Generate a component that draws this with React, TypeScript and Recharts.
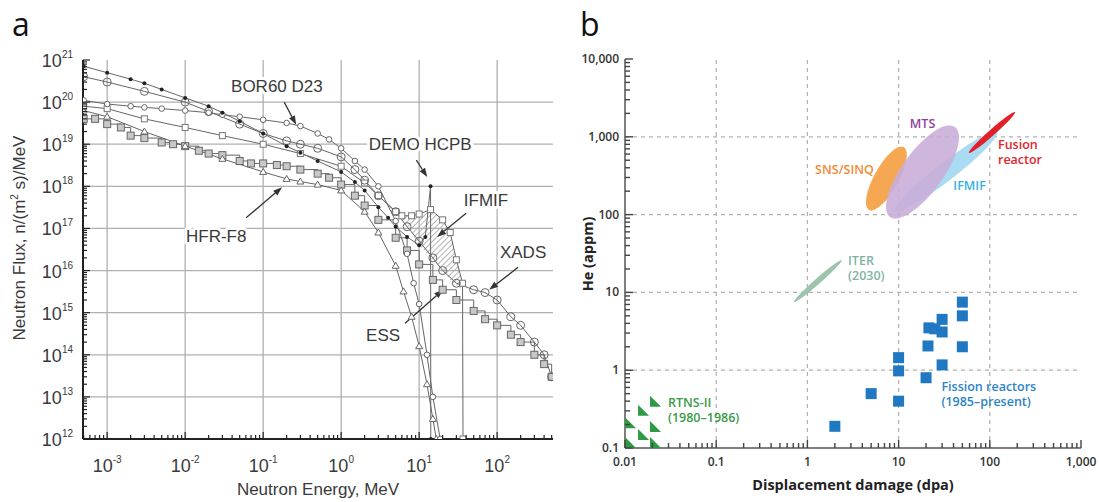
import React from 'react';
import {
  ComposedChart, Line, Area, Scatter, XAxis, YAxis, ReferenceLine, ReferenceDot,
} from 'recharts';

// ──────────────────────────────────────────────
// Panel a — neutron spectra (log–log)
// ──────────────────────────────────────────────

const E_DOMAIN: [number, number] = [4.9e-4, 520];
const FLUX_DOMAIN: [number, number] = [1e12, 1e21];
const E_DECADES = [1e-3, 1e-2, 1e-1, 1, 10, 100];
const FLUX_DECADES = [1e12, 1e13, 1e14, 1e15, 1e16, 1e17, 1e18, 1e19, 1e20, 1e21];

// energies in MeV, flux in n/(m² s)/MeV
const BOR60_E = [5e-4, 1e-3, 2e-3, 3e-3, 5e-3, 1e-2, 2e-2, 3e-2, 5e-2, 0.1, 0.2, 0.3, 0.5, 0.7, 1, 1.5, 2, 3, 5, 7, 8.5, 10, 12.6, 15, 18.6];
const BOR60_F = [1.1e20, 9e19, 8e19, 7.5e19, 7e19, 6.3e19, 5.6e19, 5e19, 4.5e19, 3.8e19, 3.2e19, 2.7e19, 1.8e19, 1.3e19, 8e18, 4e18, 2.5e18, 1e18, 1.5e17, 2.5e16, 5e15, 1.6e15, 1e14, 1e13, 1e12];

const DEMO_E = [5e-4, 1e-3, 2e-3, 3e-3, 5e-3, 1e-2, 2e-2, 3e-2, 5e-2, 0.1, 0.2, 0.3, 0.5, 1, 1.5, 2, 3, 4, 5, 7, 10, 12, 14, 14.1];
const DEMO_F = [7.1e20, 5e20, 3.5e20, 2.8e20, 2e20, 1.26e20, 8e19, 5.6e19, 3.5e19, 1.8e19, 9e18, 6.3e18, 4e18, 2.2e18, 1.26e18, 8e17, 3.2e17, 1.8e17, 1.1e17, 6.3e16, 4e16, 6.3e16, 1e18, 1e12];

const HFR_E = [5e-4, 1e-3, 3e-3, 1e-2, 3e-2, 0.1, 0.2, 0.3, 0.5, 1, 2, 3, 5, 6.3, 8, 10, 12.6, 15, 16.6];
const HFR_F = [6.3e19, 4.5e19, 2e19, 9e18, 4.5e18, 2.2e18, 1.5e18, 1.3e18, 1.1e18, 8e17, 2.5e17, 8e16, 1.3e16, 3.2e15, 8e14, 1.6e14, 2e13, 3e12, 1e12];

const ESS_E = [5e-4, 7e-4, 1e-3, 1.5e-3, 2e-3, 3e-3, 5e-3, 7e-3, 1e-2, 1.5e-2, 2e-2, 3e-2, 5e-2, 7e-2, 0.1, 0.15, 0.2, 0.3, 0.5, 0.7, 1, 1.5, 2, 3, 5, 7, 10, 15, 20, 30, 50, 70, 100, 150, 200, 300, 400, 500];
const ESS_F = [4e19, 4e19, 3e19, 2.5e19, 1.6e19, 1.4e19, 1.1e19, 1e19, 9e18, 7e18, 6e18, 5.5e18, 4e18, 3.5e18, 3.5e18, 3.2e18, 3e18, 2.5e18, 2e18, 1.6e18, 1.1e18, 6e17, 3.5e17, 1.6e17, 6e16, 3e16, 1.4e16, 6e15, 3.5e15, 2e15, 1.1e15, 7e14, 5e14, 3e14, 2e14, 1e14, 6e13, 3e13];

const XADS_E = [5e-4, 1e-3, 3e-3, 1e-2, 2e-2, 5e-2, 0.1, 0.2, 0.3, 0.5, 1, 1.5, 2, 3, 5, 7, 10, 15, 20, 30, 50, 70, 100, 150, 200, 300, 400, 500];
const XADS_F = [4e20, 3e20, 1.8e20, 1e20, 6e19, 3e19, 1.8e19, 1.2e19, 1e19, 8e18, 5e18, 2.5e18, 1.4e18, 6e17, 2.5e17, 1.1e17, 5e16, 2e16, 1e16, 5e15, 3.5e15, 3e15, 2e15, 8e14, 5e14, 2e14, 1e14, 3e13];

const IFMIF_E = [5e-4, 1e-3, 3e-3, 1e-2, 3e-2, 0.1, 0.3, 1, 2, 3, 5, 6, 8, 10, 14, 20, 25, 30, 36, 36.5];
const IFMIF_F = [8e19, 7e19, 4e19, 2.5e19, 1.6e19, 1e19, 6e18, 3e18, 1.2e18, 6e17, 2.5e17, 2e17, 2e17, 2.2e17, 2.8e17, 1.6e17, 8e16, 1.8e16, 5e15, 1e12];

// hatched IFMIF band: lower edge sits on the other spectra
const IFMIF_BAND_E = [6, 8, 10, 14, 20, 25, 30, 36];
const IFMIF_BAND_LO = [1.6e17, 8e16, 4e16, 2e16, 1e16, 6e15, 4.5e15, 3.5e15];
const IFMIF_BAND_HI = [2e17, 2e17, 2.2e17, 2.8e17, 1.6e17, 8e16, 1.8e16, 5e15];

const pts = (xs: number[], ys: number[]) => xs.map((x, i) => ({ x, y: ys[i] }));
const bandPts = IFMIF_BAND_E.map((x, i) => ({ x, band: [IFMIF_BAND_LO[i], IFMIF_BAND_HI[i]] }));

// annotation anchors, in data coordinates
const A_NOTES = [
  { text: 'BOR60 D23', x: 0.15, y: 2.3e20, from: [0.186, 1e20], to: [0.265, 2.9e19] },
  { text: 'DEMO HCPB', x: 10.3, y: 1e19, from: [9.2, 4.2e18], to: [12.7, 1.66e18] },
  { text: 'IFMIF', x: 72, y: 4.7e17, from: [40, 2.3e17], to: [17, 6.3e16] },
  { text: 'HFR-F8', x: 0.025, y: 6.3e16, from: [0.0605, 1.8e17], to: [0.175, 9.5e17] },
  { text: 'ESS', x: 3.45, y: 2.9e14, from: [6.6, 5.6e14], to: [20.3, 3.5e15] },
  { text: 'XADS', x: 215, y: 2.75e16, from: [186, 1.2e16], to: [79, 3.5e15] },
];

// ──────────────────────────────────────────────
// Panel b — helium vs displacement damage
// ──────────────────────────────────────────────

const DPA_DECADES = [0.01, 0.1, 1, 10, 100, 1000];
const HE_DECADES = [0.1, 1, 10, 100, 1000, 10000];

const FISSION_DPA = [2, 5, 10, 10, 10, 20, 21, 21.5, 25, 30, 30, 30, 50, 50, 50];
const FISSION_HE = [0.19, 0.5, 0.4, 0.98, 1.45, 0.8, 2.05, 3.5, 3.4, 4.5, 3.1, 1.17, 7.5, 5.0, 2.0];

const RTNS_DPA = [0.01, 0.01, 0.0139, 0.0139, 0.0188, 0.0188, 0.0188];
const RTNS_HE = [0.1, 0.18, 0.127, 0.26, 0.1, 0.16, 0.34];

// facilities drawn as ellipses: ends of the long axis (dpa, appm)
const REGIONS = [
  { name: 'IFMIF', from: [9, 110], to: [120, 1150], fill: '#a9dcf2', ratio: 0.14, opacity: 1 },
  { name: 'SNS/SINQ', from: [4.73, 115], to: [11.4, 740], fill: '#f6a752', ratio: 0.34, opacity: 1 },
  { name: 'MTS', from: [8.05, 93], to: [41.5, 1337], fill: '#c9aed9', ratio: 0.37, opacity: 0.9 },
  { name: 'Fusion', from: [59, 620], to: [189, 2080], fill: '#e3202a', ratio: 0.1, opacity: 1 },
  { name: 'ITER', from: [0.71, 7.5], to: [2.38, 26], fill: '#9dc3ae', ratio: 0.09, opacity: 1 },
];

const B_NOTES = [
  { lines: ['MTS'], x: 18.3, y: 1500, color: '#8e3f9e', anchor: 'middle' },
  { lines: ['SNS/SINQ'], x: 2.55, y: 385, color: '#f28a36', anchor: 'middle' },
  { lines: ['Fusion', 'reactor'], x: 123, y: 807, color: '#e3262e', anchor: 'start' },
  { lines: ['IFMIF'], x: 60, y: 240, color: '#35b2e4', anchor: 'middle' },
  { lines: ['ITER', '(2030)'], x: 2.79, y: 26, color: '#7fb3a5', anchor: 'start' },
  { lines: ['Fission reactors', '(1985–present)'], x: 29.5, y: 0.61, color: '#2a84c6', anchor: 'start' },
  { lines: ['RTNS-II', '(1980–1986)'], x: 0.0296, y: 0.39, color: '#3a9a48', anchor: 'start' },
];

// ──────────────────────────────────────────────
// helpers
// ──────────────────────────────────────────────

const SANS_A = '"Liberation Sans", Arial, sans-serif';
const SANS_B = '"Open Sans", "Noto Sans", sans-serif';

const isDecade = (v: number) => Math.abs(Math.log10(v) - Math.round(Math.log10(v))) < 1e-6;
const withMinors = (decades: number[]) =>
  decades.flatMap((d, i) => (i === decades.length - 1 ? [d] : [1, 2, 3, 4, 5, 6, 7, 8, 9].map(k => k * d)));

const E_TICKS = [5e-4, 6e-4, 7e-4, 8e-4, 9e-4, ...withMinors(E_DECADES), 200, 300, 400, 500];
const FLUX_TICKS = withMinors(FLUX_DECADES);
const DPA_TICKS = withMinors(DPA_DECADES);
const HE_TICKS = withMinors(HE_DECADES);

const exp10 = (v: number) => String(Math.round(Math.log10(v)));
const fmtB = (v: number) => v.toLocaleString('en-US', { maximumFractionDigits: 2 });

function EnergyTick({ x, y, payload }: any) {
  const major = isDecade(payload.value);
  return (
    <g>
      <line x1={x} y1={y} x2={x} y2={y - (major ? 7 : 4)} stroke="#222" strokeWidth={1.2} />
      {major && (
        <text x={x} y={y + 33} textAnchor="middle" fontFamily={SANS_A} fontSize={18} fill="#3a3a3a">
          10<tspan dy={-9} fontSize={10}>{exp10(payload.value)}</tspan>
        </text>
      )}
    </g>
  );
}

function FluxTick({ x, y, payload }: any) {
  const major = isDecade(payload.value);
  return (
    <g>
      <line x1={x} y1={y} x2={x + (major ? 7 : 4)} y2={y} stroke="#222" strokeWidth={1.2} />
      {major && (
        <text x={x - 10} y={y + 7} textAnchor="end" fontFamily={SANS_A} fontSize={18} fill="#3a3a3a">
          10<tspan dy={-9} fontSize={10}>{exp10(payload.value)}</tspan>
        </text>
      )}
    </g>
  );
}

const B_TICK = { stroke: '#444', strokeWidth: 1.4 };

function DpaTick({ x, y, payload }: any) {
  const major = isDecade(payload.value);
  return (
    <g>
      <line x1={x} y1={y} x2={x} y2={y - (major ? 8 : 5)} {...B_TICK} />
      {major && (
        <text x={x} y={y + 18} textAnchor="middle" fontFamily={SANS_B} fontWeight={600} fontSize={12} fill="#333">
          {fmtB(payload.value)}
        </text>
      )}
    </g>
  );
}
function DpaTopTick({ x, y, payload }: any) {
  const major = isDecade(payload.value);
  return <line x1={x} y1={y} x2={x} y2={y + (major ? 8 : 5)} {...B_TICK} />;
}
function HeTick({ x, y, payload }: any) {
  const major = isDecade(payload.value);
  return (
    <g>
      <line x1={x} y1={y} x2={x + (major ? 8 : 5)} y2={y} {...B_TICK} />
      {major && (
        <text x={x - 6} y={y + 4} textAnchor="end" fontFamily={SANS_B} fontWeight={600} fontSize={12} fill="#333">
          {fmtB(payload.value)}
        </text>
      )}
    </g>
  );
}
function HeRightTick({ x, y, payload }: any) {
  const major = isDecade(payload.value);
  return <line x1={x} y1={y} x2={x - (major ? 8 : 5)} y2={y} {...B_TICK} />;
}

function Arrow(p: any) {
  const { x1, y1, x2, y2 } = p;
  const a = Math.atan2(y2 - y1, x2 - x1);
  const bx = x2 - 9 * Math.cos(a);
  const by = y2 - 9 * Math.sin(a);
  const nx = -Math.sin(a) * 3.2;
  const ny = Math.cos(a) * 3.2;
  return (
    <g>
      <line x1={x1} y1={y1} x2={bx} y2={by} stroke="#333" strokeWidth={1.3} />
      <polygon points={`${x2},${y2} ${bx + nx},${by + ny} ${bx - nx},${by - ny}`} fill="#333" />
    </g>
  );
}

const ellipseShape = (fill: string, ratio: number, opacity: number) => (p: any) => {
  const { x1, y1, x2, y2 } = p;
  const cx = (x1 + x2) / 2;
  const cy = (y1 + y2) / 2;
  const rx = Math.hypot(x2 - x1, y2 - y1) / 2;
  const ang = (Math.atan2(y2 - y1, x2 - x1) * 180) / Math.PI;
  return (
    <ellipse cx={cx} cy={cy} rx={rx} ry={rx * ratio} transform={`rotate(${ang} ${cx} ${cy})`}
      fill={fill} fillOpacity={opacity} />
  );
};

// marker renderers for the grey spectra
const mk = (kind: string) => (p: any) => {
  const { cx, cy, index } = p;
  if (cx == null || cy == null) return <g key={index} />;
  switch (kind) {
    case 'dot':
      return <circle key={index} cx={cx} cy={cy} r={2} fill="#222" />;
    case 'ring':
      return <circle key={index} cx={cx} cy={cy} r={2.8} fill="#fff" stroke="#666" strokeWidth={1} />;
    case 'bigring':
      return <circle key={index} cx={cx} cy={cy} r={4} fill="none" stroke="#666" strokeWidth={1} />;
    case 'tri':
      return <polygon key={index} points={`${cx},${cy - 3.5} ${cx - 3.5},${cy + 2.5} ${cx + 3.5},${cy + 2.5}`} fill="#fff" stroke="#666" strokeWidth={1} />;
    case 'sq':
      return <rect key={index} x={cx - 3.5} y={cy - 3.5} width={7} height={7} fill="#c8c8c8" stroke="#666" strokeWidth={1} />;
    default:
      return <rect key={index} x={cx - 3} y={cy - 3} width={6} height={6} fill="#fff" stroke="#777" strokeWidth={1} />;
  }
};

// ──────────────────────────────────────────────
// charts
// ──────────────────────────────────────────────

function SpectraChart() {
  const lineProps = { type: 'linear' as const, dataKey: 'y', stroke: '#666', strokeWidth: 1, isAnimationActive: false };
  return (
    <ComposedChart width={560} height={502} margin={{ top: 60, right: 7, bottom: 23, left: 23 }}>
      <defs>
        <pattern id="hatch" width="4" height="4" patternUnits="userSpaceOnUse" patternTransform="rotate(45)">
          <line x1="0" y1="0" x2="0" y2="4" stroke="#777" strokeWidth="1.1" />
        </pattern>
      </defs>
      <XAxis type="number" dataKey="x" scale="log" domain={E_DOMAIN} allowDataOverflow
        ticks={E_TICKS} interval={0} tickSize={0} tickMargin={0} height={40}
        tick={(p: any) => <EnergyTick {...p} />} axisLine={{ stroke: '#222', strokeWidth: 2 }} />
      <XAxis xAxisId="top" orientation="top" type="number" scale="log" domain={E_DOMAIN} allowDataOverflow
        height={0} tick={false} axisLine={{ stroke: '#444', strokeWidth: 1.5 }} />
      <YAxis type="number" dataKey="y" scale="log" domain={FLUX_DOMAIN} allowDataOverflow
        ticks={FLUX_TICKS} interval={0} tickSize={0} tickMargin={0} width={60}
        tick={(p: any) => <FluxTick {...p} />} axisLine={{ stroke: '#222', strokeWidth: 2 }} />
      <YAxis yAxisId="right" orientation="right" type="number" scale="log" domain={FLUX_DOMAIN} allowDataOverflow
        width={0} tick={false} axisLine={{ stroke: '#444', strokeWidth: 1.5 }} />

      {E_DECADES.map(v => <ReferenceLine key={`gx${v}`} x={v} stroke="#b0b0b0" strokeWidth={1.3} />)}
      {FLUX_DECADES.slice(1, -1).map(v => <ReferenceLine key={`gy${v}`} y={v} stroke="#b0b0b0" strokeWidth={1.3} />)}

      <Area data={bandPts} dataKey="band" type="linear" stroke="none" fill="url(#hatch)" fillOpacity={1} isAnimationActive={false} />

      <Line data={pts(ESS_E, ESS_F)} {...lineProps} type="stepAfter" dot={mk('sq')} />
      <Line data={pts(HFR_E, HFR_F)} {...lineProps} dot={mk('tri')} />
      <Line data={pts(IFMIF_E, IFMIF_F)} {...lineProps} dot={mk('box')} />
      <Line data={pts(BOR60_E, BOR60_F)} {...lineProps} dot={mk('ring')} />
      <Line data={pts(XADS_E, XADS_F)} {...lineProps} dot={mk('bigring')} />
      <Line data={pts(DEMO_E, DEMO_F)} {...lineProps} dot={mk('dot')} />

      {A_NOTES.map(n => (
        <ReferenceLine key={`ar${n.text}`} segment={[{ x: n.from[0], y: n.from[1] }, { x: n.to[0], y: n.to[1] }]} shape={Arrow} />
      ))}
      {A_NOTES.map(n => (
        <ReferenceDot key={`tx${n.text}`} x={n.x} y={n.y} r={1}
          shape={(p: any) => (
            <text x={p.cx} y={p.cy} textAnchor="middle" dominantBaseline="central" fontFamily={SANS_A} fontSize={17}
              fill="#3a3a3a" stroke="#fff" strokeWidth={6} paintOrder="stroke" strokeLinejoin="round">
              {n.text}
            </text>
          )} />
      ))}
    </ComposedChart>
  );
}

function HeliumChart() {
  return (
    <ComposedChart width={539} height={502} margin={{ top: 59, right: 18, bottom: 24, left: 10 }}>
      <XAxis type="number" dataKey="x" scale="log" domain={[0.01, 1000]} allowDataOverflow
        ticks={DPA_TICKS} interval={0} tickSize={0} tickMargin={0} height={30}
        tick={(p: any) => <DpaTick {...p} />} axisLine={{ stroke: '#555', strokeWidth: 1.5 }} />
      <XAxis xAxisId="top" orientation="top" type="number" scale="log" domain={[0.01, 1000]} allowDataOverflow
        ticks={DPA_TICKS} interval={0} tickSize={0} tickMargin={0} height={0}
        tick={(p: any) => <DpaTopTick {...p} />} axisLine={{ stroke: '#555', strokeWidth: 1.5 }} />
      <YAxis type="number" dataKey="y" scale="log" domain={[0.1, 10000]} allowDataOverflow
        ticks={HE_TICKS} interval={0} tickSize={0} tickMargin={0} width={55}
        tick={(p: any) => <HeTick {...p} />} axisLine={{ stroke: '#555', strokeWidth: 1.5 }} />
      <YAxis yAxisId="right" orientation="right" type="number" scale="log" domain={[0.1, 10000]} allowDataOverflow
        ticks={HE_TICKS} interval={0} tickSize={0} tickMargin={0} width={0}
        tick={(p: any) => <HeRightTick {...p} />} axisLine={{ stroke: '#555', strokeWidth: 1.5 }} />

      {DPA_DECADES.slice(1, -1).map(v => (
        <ReferenceLine key={`gx${v}`} x={v} stroke="#b0b0b0" strokeWidth={1.2} strokeDasharray="4 4" />
      ))}
      {HE_DECADES.slice(1, -1).map(v => (
        <ReferenceLine key={`gy${v}`} y={v} stroke="#b0b0b0" strokeWidth={1.2} strokeDasharray="4 4" />
      ))}

      {REGIONS.map(r => (
        <ReferenceLine key={`el${r.name}`} segment={[{ x: r.from[0], y: r.from[1] }, { x: r.to[0], y: r.to[1] }]}
          shape={ellipseShape(r.fill, r.ratio, r.opacity)} />
      ))}

      <Scatter data={pts(FISSION_DPA, FISSION_HE)} isAnimationActive={false}
        shape={(p: any) => <rect x={p.cx - 5.5} y={p.cy - 5.5} width={11} height={11} fill="#1f78c1" />} />
      <Scatter data={pts(RTNS_DPA, RTNS_HE)} isAnimationActive={false}
        shape={(p: any) => <polygon points={`${p.cx},${p.cy} ${p.cx},${p.cy - 11} ${p.cx + 11},${p.cy}`} fill="#2e9a44" />} />

      {B_NOTES.map(n => (
        <ReferenceDot key={`bn${n.lines[0]}`} x={n.x} y={n.y} r={1}
          shape={(p: any) => (
            <text x={p.cx} y={p.cy} textAnchor={n.anchor as any} fontFamily={SANS_B} fontWeight={600} fontSize={12.5} fill={n.color}>
              {n.lines.map((l, i) => (
                <tspan key={i} x={p.cx} dy={i === 0 ? 4.5 : 15}>{l}</tspan>
              ))}
            </text>
          )} />
      ))}
    </ComposedChart>
  );
}

export default function App() {
  return (
    <div style={{ position: 'absolute', left: 0, top: 0, width: 1099, height: 502, background: '#fff', overflow: 'hidden' }}>
      <div style={{ position: 'absolute', left: 0, top: 0 }}>
        <SpectraChart />
      </div>
      <div style={{ position: 'absolute', left: 560, top: 0 }}>
        <HeliumChart />
      </div>

      {/* panel letters */}
      <div style={{ position: 'absolute', left: 12, top: 2, fontFamily: SANS_B, fontSize: 32, color: '#111' }}>a</div>
      <div style={{ position: 'absolute', left: 580, top: 2, fontFamily: SANS_B, fontSize: 32, color: '#111' }}>b</div>

      {/* axis titles, panel a */}
      <div style={{ position: 'absolute', left: 318, top: 490, transform: 'translate(-50%,-50%)', whiteSpace: 'nowrap',
        fontFamily: SANS_A, fontSize: 17, color: '#3a3a3a' }}>
        Neutron Energy, MeV
      </div>
      <div style={{ position: 'absolute', left: 20, top: 238, transform: 'translate(-50%,-50%) rotate(-90deg)', whiteSpace: 'nowrap',
        fontFamily: SANS_A, fontSize: 17, color: '#3a3a3a' }}>
        Neutron Flux, n/(m<sup style={{ fontSize: 10, lineHeight: 0 }}>2</sup> s)/MeV
      </div>

      {/* axis titles, panel b */}
      <div style={{ position: 'absolute', left: 853, top: 484, transform: 'translate(-50%,-50%)', whiteSpace: 'nowrap',
        fontFamily: SANS_B, fontWeight: 700, fontSize: 14.5, color: '#222' }}>
        Displacement damage (dpa)
      </div>
      <div style={{ position: 'absolute', left: 587, top: 254, transform: 'translate(-50%,-50%) rotate(-90deg)', whiteSpace: 'nowrap',
        fontFamily: SANS_B, fontWeight: 700, fontSize: 14.5, color: '#222' }}>
        He (appm)
      </div>
    </div>
  );
}
